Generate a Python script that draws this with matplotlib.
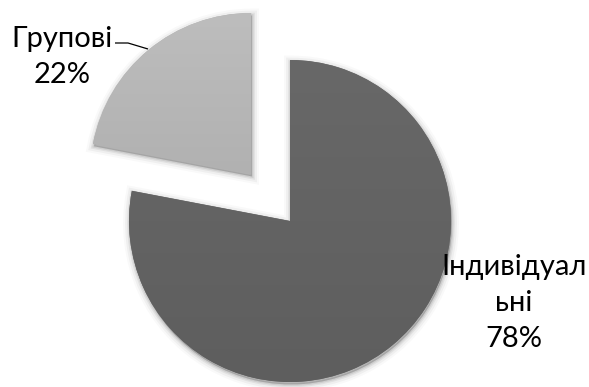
import numpy as np
import matplotlib
matplotlib.use("Agg")
import matplotlib.pyplot as plt
from matplotlib.patches import Wedge

# Share of individual vs. group lessons
categories = ["Індивідуальні", "Групові"]
values = [78, 22]
label_texts = ["Індивідуал\nьні\n78%", "Групові\n22%"]

W, H = 589, 387
fig = plt.figure(figsize=(W / 100, H / 100), dpi=100)
ax = fig.add_axes([0, 0, 1, 1])

center = (290, H - 221)
radius = 161
explode = [0, 61]
colors = ["#646464", "#b2b2b2"]

wedges, _ = ax.pie(values, startangle=90, counterclock=False, colors=colors,
                   center=center, radius=radius, explode=explode,
                   frame=True, wedgeprops=dict(linewidth=0, zorder=3))
ax.set_xlim(0, W)
ax.set_ylim(0, H)
ax.set_aspect("equal")
ax.axis("off")

# Soft drop shadow beneath each wedge
for w in wedges:
    cx, cy = w.center
    for lw, a in [(10, 0.025), (7, 0.04), (4, 0.06), (2, 0.08)]:
        sh = Wedge((cx + 1.0, cy - 2.5), w.r, w.theta1, w.theta2,
                   facecolor=(0, 0, 0, a), edgecolor=(0, 0, 0, a),
                   linewidth=lw, zorder=1)
        ax.add_patch(sh)

# Vertical gradient fill for each wedge
shades = [("#686868", "#5e5e5e"), ("#bdbdbd", "#a5a5a5")]
for w, (top, bot) in zip(wedges, shades):
    cx, cy = w.center
    t = np.array(matplotlib.colors.to_rgb(top))
    b = np.array(matplotlib.colors.to_rgb(bot))
    g = np.linspace(0, 1, 256)[:, None]
    img = (t[None, :] * (1 - g) + b[None, :] * g)[:, None, :]
    im = ax.imshow(img, extent=(cx - w.r, cx + w.r, cy - w.r, cy + w.r),
                   aspect="auto", zorder=4, interpolation="bilinear")
    im.set_clip_path(w)

font = dict(family=["Lato", "DejaVu Sans"], fontsize=21, color="black",
            linespacing=1.48, zorder=6)

# va="baseline" anchors the last line of a multi-line text
ax.text(514, H - 347, label_texts[0], ha="center", va="baseline", **font)
ax.text(62, H - 83, label_texts[1], ha="center", va="baseline", **font)

# Leader line from the group label to its wedge
ax.plot([115, 128, 148], [H - 43, H - 43, H - 49], color="black", lw=0.9,
        zorder=6, solid_capstyle="butt")

ax.set_xlim(0, W)
ax.set_ylim(0, H)
fig.savefig("out.png", dpi=100)
